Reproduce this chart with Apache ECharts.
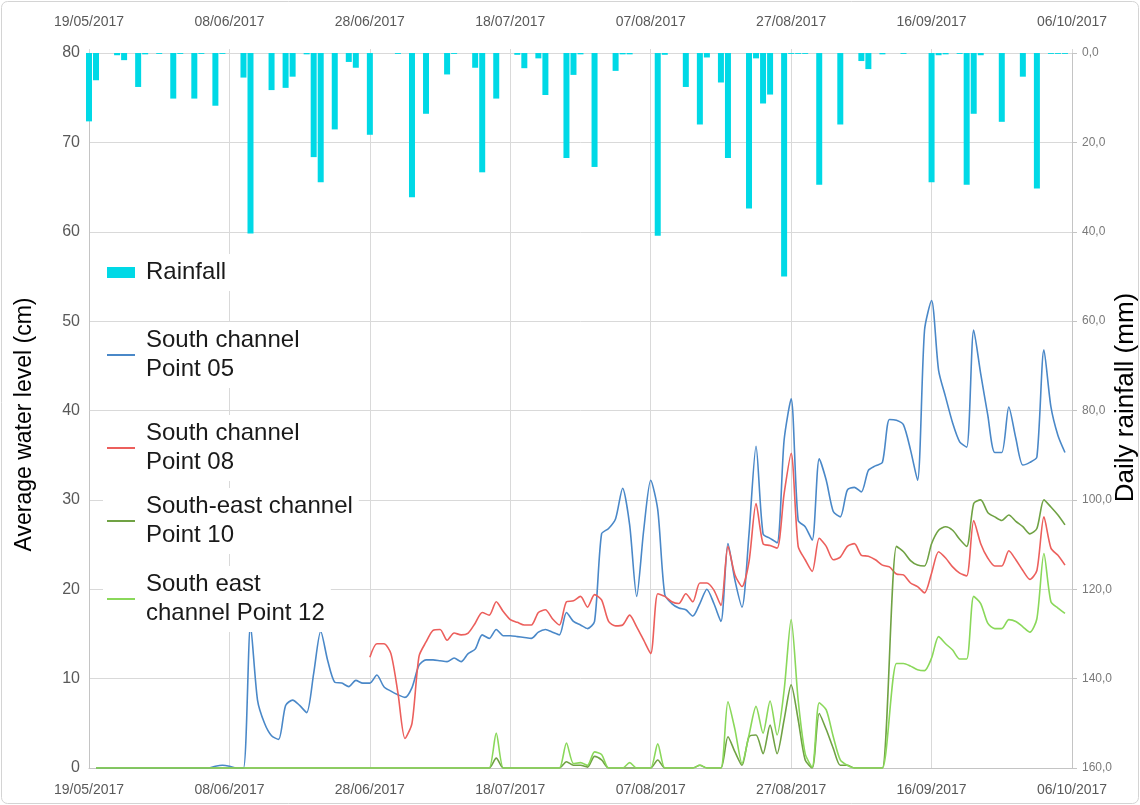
<!DOCTYPE html>
<html>
<head>
<meta charset="utf-8">
<script src="https://cdn.jsdelivr.net/npm/echarts@6.0.0/dist/echarts.min.js"></script>
<style>
html,body{margin:0;padding:0;background:#fff;}
#chart{width:1140px;height:805px;}
</style>
</head>
<body>
<div id="chart"></div>
<script>
// ---- Data (daily, 19/05/2017 .. 06/10/2017, 141 days) ----
const startDay = [2017, 5, 19];
const dayCount = 141;
const tickEvery = 20;

const rainfall = [
15.3, 6.1, 0, 0, 0.5, 1.6, 0, 7.6, 0.3, 0,
0.2, 0, 10.2, 0.2, 0, 10.2, 0.2, 0, 11.8, 0.2,
0, 0, 5.5, 40.4, 0, 0, 8.3, 0, 7.8, 5.3,
0, 0.3, 23.3, 28.9, 0, 17.1, 0, 2.0, 3.3, 0,
18.3, 0, 0, 0, 0.2, 0, 32.3, 0, 13.6, 0,
0, 4.8, 0.2, 0, 0, 3.3, 26.7, 0, 10.2, 0,
0, 0.4, 3.4, 0, 1.2, 9.4, 0, 0, 23.5, 4.9,
0.3, 0, 25.5, 0, 0, 4.0, 0.3, 0.3, 0, 0,
0, 40.9, 0.4, 0, 0, 7.6, 0, 16.0, 1.0, 0,
6.6, 23.5, 0, 0, 34.8, 1.2, 11.3, 9.3, 0, 50.0,
0.2, 0.2, 0.2, 0, 29.5, 0, 0, 16.0, 0, 0,
1.8, 3.6, 0, 0.3, 0, 0, 0.2, 0, 0, 0,
28.9, 0.5, 0.3, 0, 0.2, 29.5, 13.6, 0.5, 0, 0,
15.4, 0, 0, 5.3, 0, 30.3, 0, 0.2, 0.2, 0.2,
0
];

const southPoint05 = [
null, 0, 0, 0, 0, 0, 0, 0, 0, 0,
0, 0, 0, 0, 0, 0, 0, 0, 0.2, 0.3,
0.2, 0, 0, 16.0, 7.6, 5.0, 3.6, 3.2, 7.0, 7.6,
7.0, 6.2, 10.6, 15.3, 12.0, 9.6, 9.5, 9.1, 9.8, 9.5,
9.5, 10.4, 9.1, 8.6, 8.2, 7.9, 9.0, 11.5, 12.1, 12.1,
12.0, 11.9, 12.3, 11.9, 12.8, 13.3, 14.9, 14.5, 15.5, 14.8,
14.8, 14.7, 14.6, 14.5, 15.2, 15.5, 15.2, 14.9, 17.4, 16.4,
16.0, 15.6, 16.4, 26.2, 26.8, 27.9, 31.3, 27.2, 19.2, 26.6,
32.2, 28.9, 19.4, 18.4, 17.9, 17.7, 17.0, 18.4, 20.0, 18.4,
16.4, 25.1, 21.0, 18.0, 26.2, 36.0, 26.2, 25.7, 25.2, 36.7,
41.3, 27.7, 27.0, 25.5, 34.6, 32.2, 28.7, 28.1, 31.1, 31.4,
30.9, 33.3, 33.8, 34.2, 39.0, 38.9, 38.4, 35.6, 32.2, 49.0,
52.3, 44.5, 41.5, 38.6, 36.5, 35.9, 49.0, 44.1, 39.5, 35.3,
35.3, 40.4, 36.9, 33.9, 34.2, 34.8, 46.8, 40.4, 37.2, 35.3,
null
];

const southPoint08 = [
null, null, null, null, null, null, null, null, null, null,
null, null, null, null, null, null, null, null, null, null,
null, null, null, null, null, null, null, null, null, null,
null, null, null, null, null, null, null, null, null, null,
12.4, 13.9, 13.9, 12.8, 8.4, 3.3, 5.0, 12.5, 14.1, 15.4,
15.5, 14.3, 15.1, 14.9, 15.1, 16.2, 17.4, 17.1, 18.6, 17.5,
16.6, 16.3, 16.0, 16.0, 17.4, 17.7, 16.7, 16.0, 18.6, 18.7,
19.2, 18.0, 19.4, 18.8, 16.4, 15.9, 16.0, 17.1, 15.8, 14.3,
12.8, 19.5, 19.2, 18.6, 18.4, 19.5, 18.6, 20.7, 20.7, 19.9,
18.2, 24.8, 21.6, 20.3, 23.1, 29.6, 25.1, 24.9, 24.6, 30.7,
35.2, 24.8, 23.3, 22.0, 25.7, 24.8, 23.3, 23.6, 24.8, 25.1,
23.8, 23.7, 23.3, 22.7, 22.5, 21.7, 21.6, 20.7, 20.3, 19.6,
21.8, 24.2, 23.5, 22.5, 21.8, 21.5, 27.7, 25.1, 23.5, 22.6,
22.6, 24.3, 23.3, 22.1, 21.1, 22.1, 28.1, 24.6, 23.8, 22.7,
null
];

const southEastPoint10 = [
null, 0, 0, 0, 0, 0, 0, 0, 0, 0,
0, 0, 0, 0, 0, 0, 0, 0, 0, 0,
0, 0, 0, 0, 0, 0, 0, 0, 0, 0,
0, 0, 0, 0, 0, 0, 0, 0, 0, 0,
0, 0, 0, 0, 0, 0, 0, 0, 0, 0,
0, 0, 0, 0, 0, 0, 0, 0, 1.1, 0,
0, 0, 0, 0, 0, 0, 0, 0, 0.7, 0.3,
0.3, 0.1, 1.3, 0.9, 0, 0, 0, 0, 0, 0,
0, 0.9, 0, 0, 0, 0, 0, 0.3, 0, 0,
0, 3.5, 1.8, 0.3, 3.5, 3.7, 1.6, 4.8, 1.6, 5.4,
9.3, 5.4, 0.9, 0, 6.1, 4.3, 2.2, 0.3, 0.3, 0,
0, 0, 0, 0, null, 24.8, 24.2, 23.2, 22.7, 22.6,
25.1, 26.6, 27.0, 26.6, 25.6, 24.8, 29.6, 30.0, 28.6, 28.1,
27.7, 28.3, 27.6, 27.0, 26.2, 26.8, 30.0, 29.2, 28.3, 27.2,
null
];

const southEastPoint12 = [
null, 0, 0, 0, 0, 0, 0, 0, 0, 0,
0, 0, 0, 0, 0, 0, 0, 0, 0, 0,
0, 0, 0, 0, 0, 0, 0, 0, 0, 0,
0, 0, 0, 0, 0, 0, 0, 0, 0, 0,
0, 0, 0, 0, 0, 0, 0, 0, 0, 0,
0, 0, 0, 0, 0, 0, 0, 0, 3.9, 0,
0, 0, 0, 0, 0, 0, 0, 0, 2.8, 0.5,
0.6, 0.3, 1.8, 1.5, 0, 0, 0, 0.6, 0, 0,
0, 2.7, 0, 0, 0, 0, 0, 0.3, 0, 0,
0, 7.4, 4.3, 0.5, 3.7, 6.9, 3.9, 7.5, 3.7, 8.7,
16.6, 7.6, 1.6, 0.1, 7.3, 6.5, 3.5, 0.9, 0.3, 0,
0, 0, 0, 0, null, 11.7, 11.7, 11.4, 11.0, 10.9,
12.3, 14.7, 13.9, 13.2, 12.2, 12.2, 19.2, 18.4, 16.2, 15.6,
15.6, 16.6, 16.4, 15.8, 15.2, 16.7, 24.0, 18.6, 17.9, 17.3,
null
];

const seriesNames = [
  'Rainfall',
  'South channel\nPoint 05',
  'South channel\nPoint 08',
  'South-east channel\nPoint 10',
  'South east\nchannel Point 12'
];
const seriesColors = ['#00d9e6', '#4a88c8', '#ec5f5c', '#70a244', '#8ad85a'];

// ---- Category labels (dates) ----
function pad(n){ return (n < 10 ? '0' : '') + n; }
const dates = [];
for (let i = 0; i < dayCount; i++) {
  const d = new Date(Date.UTC(startDay[0], startDay[1] - 1, startDay[2] + i));
  dates.push(pad(d.getUTCDate()) + '/' + pad(d.getUTCMonth() + 1) + '/' + d.getUTCFullYear());
}

const FONT = "'Liberation Sans', Arial, sans-serif";
const gridColor = '#d9d9d9';
const axisColor = '#c4c4c4';
const labelColor = '#595959';

function legendBox(name, top, icon, h) {
  return {
    data: [{ name: name, icon: icon }],
    orient: 'vertical',
    left: 103,
    top: top,
    padding: [4, 6, 4, 4],
    backgroundColor: '#ffffff',
    itemWidth: 28,
    itemHeight: h,
    selectedMode: false,
    textStyle: {
      fontFamily: FONT,
      fontSize: 24,
      lineHeight: 29,
      color: '#1a1a1a',
      padding: [0, 0, 0, 6]
    }
  };
}

const chart = echarts.init(document.getElementById('chart'), null, { renderer: 'canvas' });
const option = {
  animation: false,
  backgroundColor: '#ffffff',
  textStyle: { fontFamily: FONT },
  graphic: [{
    type: 'rect',
    shape: { x: 1.5, y: 1.5, width: 1137, height: 802, r: 6 },
    style: { fill: 'none', stroke: '#d4d4d4', lineWidth: 1 },
    silent: true,
    z: -10
  }],
  grid: {
    left: 89, right: 68, top: 53, bottom: 37,
    containLabel: false,
    outerBoundsMode: 'none'
  },
  legend: [
    legendBox(seriesNames[0], 254, 'rect', 11),
    legendBox(seriesNames[1], 322, 'rect', 2),
    legendBox(seriesNames[2], 415, 'rect', 2),
    legendBox(seriesNames[3], 488, 'rect', 2),
    legendBox(seriesNames[4], 566, 'rect', 2)
  ],
  xAxis: [{
    type: 'category',
    data: dates,
    boundaryGap: false,
    position: 'bottom',
    axisLine: { show: true, lineStyle: { color: axisColor, width: 1 } },
    axisTick: { show: false },
    axisLabel: { interval: tickEvery - 1, color: labelColor, fontSize: 14, margin: 15, fontFamily: FONT },
    splitLine: { show: true, interval: tickEvery - 1, lineStyle: { color: gridColor, width: 1 } }
  }, {
    type: 'category',
    data: dates,
    boundaryGap: false,
    position: 'top',
    axisLine: { show: false },
    axisTick: { show: true, interval: tickEvery - 1, length: 4, lineStyle: { color: gridColor } },
    axisLabel: { interval: tickEvery - 1, color: labelColor, fontSize: 14, margin: 24, fontFamily: FONT },
    splitLine: { show: false }
  }],
  yAxis: [{
    type: 'value',
    min: 0, max: 80, interval: 10,
    position: 'left',
    name: 'Average water level (cm)',
    nameLocation: 'middle',
    nameGap: 53,
    nameMoveOverlap: false,
    nameTextStyle: { fontSize: 23, color: '#000000', fontFamily: FONT, padding: [0, 28, 0, 0] },
    axisLine: { show: true, lineStyle: { color: axisColor } },
    axisTick: { show: false },
    axisLabel: { color: labelColor, fontSize: 16, margin: 9, fontFamily: FONT },
    splitLine: { show: true, lineStyle: { color: gridColor, width: 1 } }
  }, {
    type: 'value',
    min: 0, max: 160, interval: 20,
    inverse: true,
    position: 'right',
    name: 'Daily rainfall (mm)',
    nameLocation: 'middle',
    nameGap: 41,
    nameMoveOverlap: false,
    nameTextStyle: { fontSize: 26, color: '#000000', fontFamily: FONT, padding: [0, 0, 0, 26] },
    axisLine: { show: true, lineStyle: { color: axisColor } },
    axisTick: { show: true, length: 5, lineStyle: { color: axisColor } },
    axisLabel: {
      color: '#7a7a7a', fontSize: 12, margin: 10, fontFamily: FONT,
      formatter: function (v) { return v.toFixed(1).replace('.', ','); }
    },
    splitLine: { show: false }
  }],
  series: [{
    name: seriesNames[0],
    type: 'bar',
    xAxisIndex: 0,
    yAxisIndex: 1,
    data: rainfall,
    barWidth: 6,
    itemStyle: { color: seriesColors[0] },
    z: 1
  }, {
    name: seriesNames[1],
    type: 'line', xAxisIndex: 0, yAxisIndex: 0,
    data: southPoint05,
    symbol: 'none', smooth: 0.25, connectNulls: true,
    lineStyle: { color: seriesColors[1], width: 1.6 },
    itemStyle: { color: seriesColors[1] },
    z: 3
  }, {
    name: seriesNames[2],
    type: 'line', xAxisIndex: 0, yAxisIndex: 0,
    data: southPoint08,
    symbol: 'none', smooth: 0.25, connectNulls: true,
    lineStyle: { color: seriesColors[2], width: 1.6 },
    itemStyle: { color: seriesColors[2] },
    z: 4
  }, {
    name: seriesNames[3],
    type: 'line', xAxisIndex: 0, yAxisIndex: 0,
    data: southEastPoint10,
    symbol: 'none', smooth: 0.25, connectNulls: true,
    lineStyle: { color: seriesColors[3], width: 1.6 },
    itemStyle: { color: seriesColors[3] },
    z: 5
  }, {
    name: seriesNames[4],
    type: 'line', xAxisIndex: 0, yAxisIndex: 0,
    data: southEastPoint12,
    symbol: 'none', smooth: 0.25, connectNulls: true,
    lineStyle: { color: seriesColors[4], width: 1.6 },
    itemStyle: { color: seriesColors[4] },
    z: 6
  }]
};
chart.setOption(option);
</script>
</body>
</html>
